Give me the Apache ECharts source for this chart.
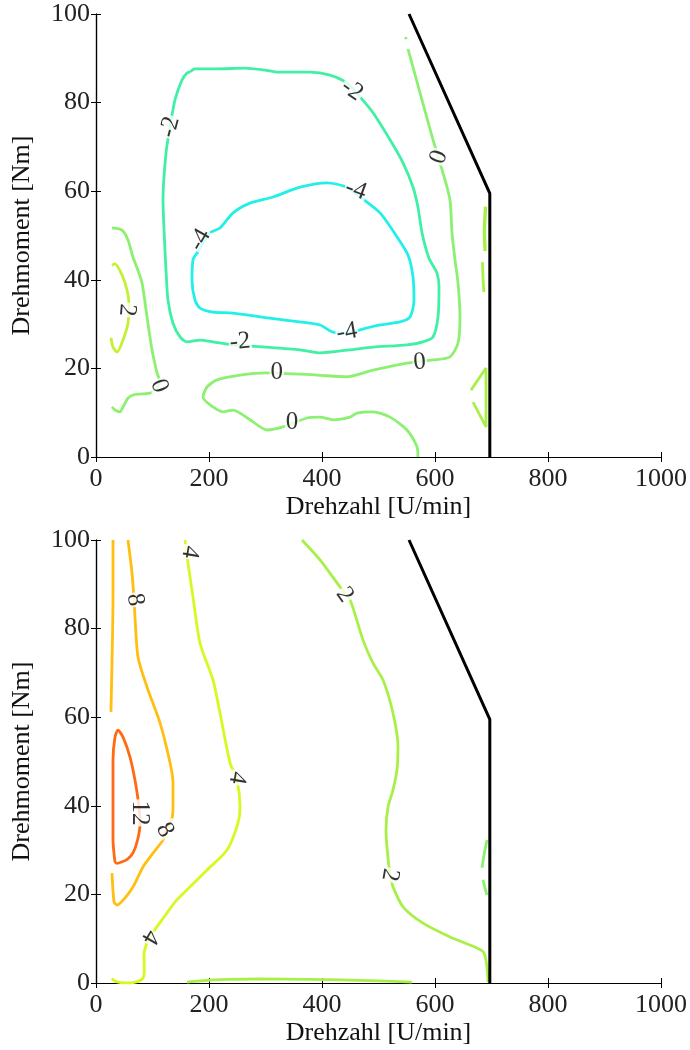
<!DOCTYPE html>
<html>
<head>
<meta charset="utf-8">
<script src="https://cdn.jsdelivr.net/npm/echarts@6/dist/echarts.min.js"></script>
<style>
html, body { margin: 0; padding: 0; background: #fff; }
#chart { width: 690px; height: 1050px; }
</style>
</head>
<body>
<div id="chart"></div>
<script>
// Axis ranges and tick values
const xTicks = [0, 200, 400, 600, 800, 1000];
const yTicks = [0, 20, 40, 60, 80, 100];

// Operating limit (full-load curve), same for both maps
const limitCurve = [[554, 100], [697, 59.5], [697, 0]];

// ---- Upper map: contour lines [Drehzahl, Drehmoment] ----
const upperMinus4 = [[178.8,46.0],[201.8,50.6],[219.5,51.7],[242.5,55.1],[272.6,57.3],[313.3,58.7],[361.1,60.9],[408.8,61.9],[444.2,60.9],[467.3,58.7],[502.7,55.1],[532.7,49.7],[552.2,45.6],[561.1,40.6],[562.8,35.4],[555.8,31.6],[538.1,30.5],[502.7,29.8],[467.3,28.7],[449.6,28.0],[419.5,28.2],[396.5,29.8],[361.1,30.5],[302.7,31.4],[242.5,32.5],[207.1,32.7],[184.1,33.6],[175.2,35.4],[169.9,40.0],[171.7,44.5],[178.8,46.0]];

const upperMinus2 = [[166.4,86.9],[175.2,87.6],[214.2,87.6],[263.7,87.8],[295.6,87.4],[320.4,86.9],[378.8,86.9],[414.2,86.2],[444.2,84.4],[467.3,81.3],[490.3,77.7],[520.4,71.6],[543.4,66.4],[561.1,60.9],[569.9,56.4],[577.0,50.6],[589.0,45.0],[603.5,41.5],[607.1,38.4],[605.3,31.6],[596.5,27.1],[578.8,26.0],[550.4,25.3],[490.3,24.8],[449.6,24.2],[396.5,23.5],[361.0,24.2],[302.7,24.8],[242.5,25.3],[207.1,26.0],[184.1,26.4],[161.1,26.0],[148.7,27.1],[136.3,30.2],[127.4,35.4],[123.9,42.2],[120.4,51.2],[118.6,58.0],[123.9,68.6],[131.0,74.5],[139.8,80.6],[152.2,85.1],[161.1,86.7],[166.4,86.9]];

const upperZeroMain = [[552.2,92.1],[573.5,82.2],[596.5,71.6],[614.2,64.1],[626.5,58.0],[630.1,50.6],[635.4,44.5],[640.7,39.3],[644.2,31.6],[640.7,25.7],[626.5,22.6],[596.5,21.9],[550.4,21.2],[490.3,19.6],[444.2,18.1],[391.2,18.5],[302.7,19.0],[254.9,18.5],[214.2,17.4],[196.5,15.8],[189.4,13.5],[207.1,11.3],[224.8,10.2],[242.5,10.6],[272.6,8.4],[302.7,6.1],[331.0,6.8],[373.5,8.8],[396.5,9.0],[419.5,8.4],[449.6,9.0],[461.9,9.9],[490.3,10.2],[520.4,9.0],[550.4,6.1],[568.1,2.3],[569.9,0.0]];
const upperZeroDot = [[548.0,94.8],[548.8,94.3]];
const upperZeroLeft = [[28.3,51.7],[46.0,51.2],[56.6,49.0],[65.5,45.1],[70.8,43.3],[81.4,39.3],[90.3,31.6],[99.1,24.2],[108.0,19.0],[113.3,16.9],[104.0,15.2],[95.6,14.4],[77.9,14.2],[65.5,14.0],[56.6,13.3],[47.8,11.3],[42.5,10.2],[33.6,10.6],[28.3,11.3]];

const upperTwoLeft = [[28.3,43.3],[33.6,43.6],[46.0,41.1],[54.9,37.7],[58.4,34.3],[56.6,30.2],[47.8,26.4],[37.2,23.7],[30.1,24.8],[26.5,26.9]];
const upperTwoEdgeA = [[689.5,56.5],[687.5,51.0],[688.5,46.5]];
const upperTwoEdgeB = [[684.0,44.0],[685.0,40.4],[686.5,37.2]];
const upperTwoEdgeC = [[663.7,15.1],[690.3,20.1],[690.3,12.9],[690.3,6.8],[667.3,12.4]];

// Upper map labels: [x, y, text] and text angles
const upperLabels = [[131,74.5,'-2'],[453,82.8,'-2'],[184,49,'-4'],[460,60.3,'-4'],[444,28.2,'-4'],[255,26,'-2'],[607,67.7,'0'],[573,21.4,'0'],[320,19,'0'],[347,7.7,'0'],[117,16.3,'0'],[55,33.2,'2']];
const upperLabelAngles = [75, -35, 60, -20, 10, 5, 70, 5, 0, 0, 110, -95];

// ---- Lower map: contour lines ----
const lowerTwelve = [[33.6,27.3],[30.1,32.3],[30.1,42.0],[30.1,50.3],[33.6,55.5],[38.9,57.1],[47.8,55.5],[60.2,51.0],[70.0,45.1],[76.0,39.7],[77.9,36.0],[74.0,32.5],[66.0,29.5],[56.0,28.0],[45.0,27.3],[37.2,27.0],[33.6,27.3]];

const lowerEightLeft = [[30.1,100],[30.1,87.1],[28.3,72.2],[26.5,61.2]];
const lowerEight = [[56.6,100],[63.7,92.6],[67.3,86.5],[69.0,82.6],[74.3,73.6],[90.3,66.8],[113.3,58.7],[131.0,49.7],[136.3,45.1],[136.3,39.7],[133.6,36.8],[122.0,34.1],[118.6,32.3],[100.9,29.3],[83.2,26.2],[65.5,21.7],[50.0,19.0],[37.2,17.6],[32.0,18.3],[28.3,24.8]];

const lowerFour = [[157.5,100],[162.8,94.8],[171.7,87.1],[184.1,76.7],[207.1,68.4],[219.5,60.9],[237.2,49.7],[249.6,45.8],[254.9,39.7],[251.3,36.1],[231.9,30.0],[196.5,25.5],[166.4,21.7],[140.0,18.3],[125.7,15.8],[104.0,12.0],[92.0,9.5],[85.0,6.5],[85.5,2.5],[82.0,0.9],[70.0,0.2],[54.9,0.0],[35.0,0.3],[28.0,1.0]];

const lowerTwo = [[364.6,100],[396.5,95.5],[431.9,89.4],[449.6,86.5],[472.6,77.4],[490.3,72.2],[508.0,68.4],[525.7,60.9],[534.5,53.3],[532.7,48.1],[525.7,43.6],[516.8,39.7],[513.3,34.5],[515.0,30.7],[520.4,24.4],[525.7,21.7],[543.4,17.2],[578.8,13.5],[626.5,10.4],[674.3,7.9],[686.7,6.8],[692.0,3.6],[693.8,0.2]];

const lowerZeroBottom = [[161,0.2],[184,0.5],[232,0.8],[290,0.9],[380,0.8],[432,0.7],[500,0.5],[559,0.2]];
const lowerZeroEdgeA = [[692.0,32.3],[686.7,28.9],[683.2,26.0]];
const lowerZeroEdgeB = [[684.9,23.3],[688.5,21.4],[692.0,19.9]];

const lowerLabels = [[166,97.3,'4'],[69,86.5,'8'],[440,87.6,'2'],[249.6,46.3,'4'],[77.9,38.4,'12'],[122,34.5,'8'],[520,24.4,'2'],[95.6,10.4,'4']];
const lowerLabelAngles = [-100, -80, -55, -100, -90, -60, -100, -120];

// ---- chart construction ----
const FONT = 'Liberation Serif';
const chart = echarts.init(document.getElementById('chart'), null, { renderer: 'canvas' });

const colors = {
  m4: '#22f0e8',
  m2: '#40f0a4',
  z0: '#8cf070',
  p2: '#c4f034',
  p2b: '#a8f048',
  p4: '#d8f820',
  p8: '#ffbe10',
  p12: '#ff6a12'
};

function contour(data, color, panel, width) {
  return {
    type: 'line', data: data, xAxisIndex: panel * 2, yAxisIndex: panel * 2,
    showSymbol: false, symbol: 'none', smooth: 0.25, silent: true,
    lineStyle: { color: color, width: width || 2.8 }, z: 2
  };
}
function labels(list, angles, panel) {
  return {
    type: 'scatter', xAxisIndex: panel * 2, yAxisIndex: panel * 2, symbolSize: 0, silent: true, z: 5,
    data: list.map((p, i) => ({
      value: [p[0], p[1]], name: p[2],
      label: { rotate: angles[i] }
    })),
    label: {
      show: true, position: 'inside', formatter: '{b}', fontFamily: FONT, fontSize: 25,
      color: '#000', backgroundColor: '#fff', padding: [0, 1], align: 'center', verticalAlign: 'middle'
    }
  };
}

function xAxes(grid) {
  return [{
    type: 'value', gridIndex: grid, position: 'bottom', min: 0, max: 1000, interval: 200,
    name: 'Drehzahl [U/min]', nameLocation: 'middle', nameGap: 37,
    nameTextStyle: { fontFamily: FONT, fontSize: 26, color: '#111' },
    axisLine: { lineStyle: { color: '#000', width: 1.2 } },
    axisTick: { inside: true, length: 5, lineStyle: { color: '#000' } },
    axisLabel: { fontFamily: FONT, fontSize: 26, color: '#222', margin: 9,
      formatter: v => xTicks.includes(v) ? String(v) : '' },
    splitLine: { show: false }
  }, {
    type: 'value', gridIndex: grid, position: 'top', min: 0, max: 1000, interval: 200,
    axisLine: { lineStyle: { color: '#000', width: 1.2 } },
    axisTick: { inside: true, length: 5, lineStyle: { color: '#000' } },
    axisLabel: { show: false }, splitLine: { show: false }
  }];
}
function yAxes(grid) {
  return [{
    type: 'value', gridIndex: grid, position: 'left', min: 0, max: 100, interval: 20,
    name: 'Drehmoment [Nm]', nameLocation: 'middle', nameGap: 61,
    nameTextStyle: { fontFamily: FONT, fontSize: 26, color: '#111' },
    axisLine: { lineStyle: { color: '#000', width: 1.2 } },
    axisTick: { inside: true, length: 5, lineStyle: { color: '#000' } },
    axisLabel: { fontFamily: FONT, fontSize: 26, color: '#222', margin: 6,
      formatter: v => yTicks.includes(v) ? String(v) : '' },
    splitLine: { show: false }
  }, {
    type: 'value', gridIndex: grid, position: 'right', min: 0, max: 100, interval: 20,
    axisLine: { lineStyle: { color: '#000', width: 1.2 } },
    axisTick: { inside: true, length: 5, lineStyle: { color: '#000' } },
    axisLabel: { show: false }, splitLine: { show: false }
  }];
}

const series = [
  // upper map
  contour(upperMinus4, colors.m4, 0),
  contour(upperMinus2, colors.m2, 0),
  contour(upperZeroMain, colors.z0, 0),
  contour(upperZeroDot, colors.z0, 0),
  contour(upperZeroLeft, colors.z0, 0),
  contour(upperTwoLeft, colors.p2, 0),
  contour(upperTwoEdgeA, colors.p2b, 0, 3.4),
  contour(upperTwoEdgeB, colors.p2b, 0),
  contour(upperTwoEdgeC, colors.p2b, 0),
  { type: 'line', data: limitCurve, xAxisIndex: 0, yAxisIndex: 0, showSymbol: false, symbol: 'none',
    silent: true, lineStyle: { color: '#000', width: 3 }, z: 3 },
  labels(upperLabels, upperLabelAngles, 0),
  // lower map
  contour(lowerTwelve, colors.p12, 1),
  contour(lowerEightLeft, colors.p8, 1),
  contour(lowerEight, colors.p8, 1),
  contour(lowerFour, colors.p4, 1),
  contour(lowerTwo, colors.p2b, 1),
  contour(lowerZeroBottom, colors.p2b, 1),
  contour(lowerZeroEdgeA, colors.z0, 1),
  contour(lowerZeroEdgeB, colors.z0, 1),
  { type: 'line', data: limitCurve, xAxisIndex: 2, yAxisIndex: 2, showSymbol: false, symbol: 'none',
    silent: true, lineStyle: { color: '#000', width: 3 }, z: 3 },
  labels(lowerLabels, lowerLabelAngles, 1)
];

chart.setOption({
  backgroundColor: '#fff',
  animation: false,
  grid: [
    { left: 96, top: 14, width: 565, height: 443 },
    { left: 96, top: 540, width: 565, height: 443 }
  ],
  xAxis: [...xAxes(0), ...xAxes(1)],
  yAxis: [...yAxes(0), ...yAxes(1)],
  series: series
});
</script>
</body>
</html>
